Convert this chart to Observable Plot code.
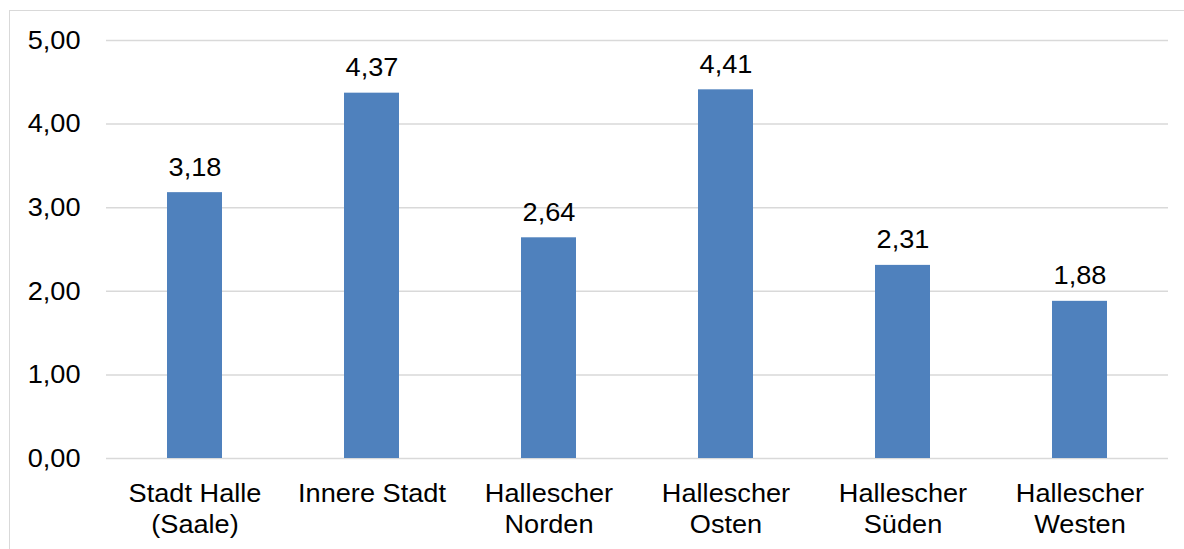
<!DOCTYPE html>
<html>
<head>
<meta charset="utf-8">
<script src="https://cdn.jsdelivr.net/npm/d3@7"></script>
<script src="https://cdn.jsdelivr.net/npm/@observablehq/plot@0.6"></script>
<style>
  html, body { margin: 0; padding: 0; background: #fff; overflow: hidden; }
  #wrap { position: relative; width: 1184px; height: 549px; }
  #frame { position: absolute; left: 9px; top: 10px; width: 1300px; height: 700px; border: 1.5px solid #d9d9d9; box-sizing: border-box; }
  #chart { position: absolute; left: 0; top: 0; }
</style>
</head>
<body>
<div id="wrap"><div id="frame"></div><div id="chart"></div></div>
<script>
const categories = ["Stadt Halle\n(Saale)", "Innere Stadt", "Hallescher\nNorden", "Hallescher\nOsten", "Hallescher\nSüden", "Hallescher\nWesten"];
const values = [3.18, 4.37, 2.64, 4.41, 2.31, 1.88];
const yTicks = [0, 1, 2, 3, 4, 5];

const data = categories.map((c, i) => ({cat: c, value: values[i]}));
const fmt = v => v.toFixed(2).replace(".", ",");

const chart = Plot.plot({
  width: 1184,
  height: 549,
  marginLeft: 106,
  marginRight: 16,
  marginTop: 40,
  marginBottom: 91,
  style: {fontFamily: "Arial, 'Liberation Sans', sans-serif", fontSize: "26px", color: "#000", background: "transparent"},
  x: {domain: categories, paddingInner: 0.69, paddingOuter: 0.345, label: null},
  y: {domain: [0, 5], label: null},
  marks: [
    Plot.gridY(yTicks, {stroke: "#d9d9d9", strokeOpacity: 1, strokeWidth: 1.5}),
    Plot.axisY(yTicks, {tickSize: 0, tickPadding: 26, tickFormat: fmt, fontSize: 26, label: null, fill: "#000"}),
    Plot.axisX({tickSize: 0, tickPadding: 21, lineHeight: 1.2, fontSize: 26, label: null, fill: "#000"}),
    Plot.barY(data, {x: "cat", y: "value", fill: "#4f81bd"}),
    Plot.text(data, {x: "cat", y: "value", text: d => fmt(d.value), lineAnchor: "bottom", dy: -17, fontSize: 26, fill: "#000"})
  ]
});
document.getElementById("chart").appendChild(chart);

// widen glyphs slightly to match the reference's text proportions
chart.querySelectorAll("text").forEach(t => {
  let tx = 0, ty = 0;
  const xa = t.getAttribute("x"), ya = t.getAttribute("y");
  if (xa !== null && !isNaN(+xa)) { tx = +xa; t.removeAttribute("x"); }
  if (ya !== null && !isNaN(+ya)) { ty = +ya; t.removeAttribute("y"); }
  const tr = t.getAttribute("transform") || "";
  t.setAttribute("transform", `${tr} translate(${tx},${ty}) scale(1.045,1)`);
});
</script>
</body>
</html>
